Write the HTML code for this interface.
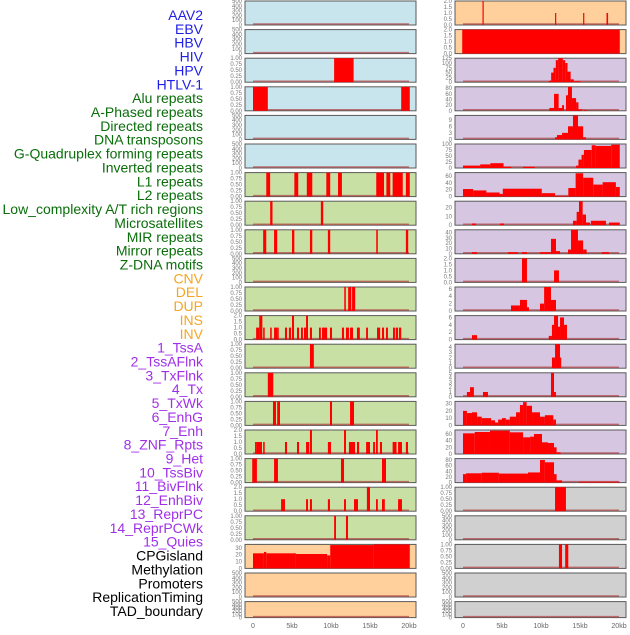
<!DOCTYPE html>
<html><head><meta charset="utf-8">
<style>
body{margin:0;background:#fff;}
svg text{font-family:"Liberation Sans",sans-serif;}
</style></head>
<body>
<svg id="chart" width="630" height="630" viewBox="0 0 630 630" xmlns="http://www.w3.org/2000/svg"></svg>
<script>
const labels=["AAV2","EBV","HBV","HIV","HPV","HTLV-1","Alu repeats","A-Phased repeats","Directed repeats","DNA transposons","G-Quadruplex forming repeats","Inverted repeats","L1 repeats","L2 repeats","Low_complexity A/T rich regions","Microsatellites","MIR repeats","Mirror repeats","Z-DNA motifs","CNV","DEL","DUP","INS","INV","1_TssA","2_TssAFlnk","3_TxFlnk","4_Tx","5_TxWk","6_EnhG","7_Enh","8_ZNF_Rpts","9_Het","10_TssBiv","11_BivFlnk","12_EnhBiv","13_ReprPC","14_ReprPCWk","15_Quies","CPGisland","Methylation","Promoters","ReplicationTiming","TAD_boundary"];
const labelColors=[...Array(6).fill("#1f1fe6"),...Array(13).fill("#0a6e0a"),...Array(5).fill("#f5a623"),...Array(15).fill("#a030e8"),...Array(5).fill("#000")];
const xTicks=[0,5,10,15,20];
const xTickLabels=["0","5kb","10kb","15kb","20kb"];
const E=[0,100,200,300,400,500], U=[0,0.25,0.5,0.75,1], T=[0,0.5,1,1.5,2];
// left column: [ymax, ticks, segments [startKb,endKb,value]]
const leftBg=[...Array(6).fill("#c8e4ec"),...Array(13).fill("#c8e0a4"),...Array(3).fill("#ffd09c")];
const leftTicks=[E,E,U,U,E,E,U,U,U,E,U,T,U,U,U,T,U,T,U,[0,10,20,30],E,E];
const leftMax=[500,500,1,1,500,500,1,1,1,500,1,2,1,1,1,2,1,2,1,35,500,500];
const leftSegs=[
[],[],
[[10.4,12.9,1]],
[[0,1.9,1],[19.0,20.1,1]],
[],[],
[[1.7,2.2,1],[5.3,5.8,1],[6.9,7.6,1],[9.4,9.9,1],[10.9,11.4,1],[15.8,16.8,1],[17.1,17.6,1],[17.9,19.2,1],[19.6,20.1,1]],
[[2.2,2.5,1],[8.7,9.0,1]],
[[1.3,1.7,1],[2.7,3.1,1],[5.0,5.3,1],[7.3,7.6,1],[9.6,9.9,1],[15.8,16.0,1],[19.6,19.9,1]],
[],
[[11.7,11.9,1],[12.2,12.6,1],[12.7,13.1,1]],
[[0.4,0.8,1],[0.8,1.2,2],[1.3,1.5,1],[2.2,2.4,1],[2.7,3.1,1],[3.1,3.3,1],[4.1,4.36,1],[4.6,4.87,1],[5.0,5.26,2],[5.64,5.9,1],[6.15,6.4,1],[6.54,6.8,1],[6.8,7.05,2],[7.3,7.56,1],[8.46,8.7,1],[8.85,9.1,1],[9.1,9.5,1],[9.87,10.13,1],[11.4,11.67,1],[11.92,12.3,1],[12.44,12.82,1],[13.33,13.7,1],[14.5,14.74,1],[15.9,16.3,1],[16.54,16.8,1],[17.05,17.3,1],[17.95,18.2,1],[18.3,18.6,1],[18.72,19.0,1]],
[[7.3,7.8,1]],
[[1.9,2.6,1]],
[[2.56,2.95,1],[3.1,3.46,1],[9.87,10.13,1],[12.44,12.95,1]],
[[0.26,0.5,1],[0.5,1.15,1],[1.3,1.5,1],[4.1,4.36,1],[5.64,5.9,1],[6.8,7.2,1],[7.3,7.56,2],[9.6,10.0,1],[11.67,11.92,2],[12.3,12.82,1],[12.82,13.08,1],[13.33,13.6,1],[14.5,15.0,1],[15.4,15.64,1],[15.77,16.0,2],[16.28,16.54,1],[17.9,18.4,1],[18.6,19.1,1],[19.6,19.87,1]],
[[-0.1,0.5,1],[2.7,3.2,1],[11.28,11.67,1],[16.54,17.05,1]],
[[3.6,4.1,1],[6.8,7.05,1],[7.3,7.56,1],[9.6,9.87,1],[11.67,11.92,1],[12.95,13.46,1],[14.6,15.0,2],[15.77,16.0,1],[16.54,16.9,1],[18.6,19.1,1]],
[[10.4,10.64,1],[11.92,12.18,1]],
[[0,1.4,22],[1.4,1.7,24],[1.7,5.5,22],[5.5,9.5,21],[9.5,9.9,19],[9.9,15.5,34],[15.5,20.1,35]],
[],[]
];
const rightBg=["#ffd09c","#ffd09c",...Array(15).fill("#d6c6e2"),...Array(5).fill("#d0d0d0")];
const rightTicks=[T,T,[0,25,50,75,100,125],[0,20,40,60,80],[0,3,6,9],[0,25,50,75,100],[0,20,40,60],[0,10,20],[0,10,20,30,40],T,[0,2,4,6],[0,2,4,6],[0,1,2,3,4],[0,1,2,3,4,5],[0,10,20,30],[0,20,40,60],[0,20,40,60,80],U,E,U,E,E];
const rightMax=[2,2,125,85,11,100,70,27,45,2,6.5,6.5,4.5,5,33,72,85,1,500,1,500,500];
const rightSegs=[
[[2.5,2.65,2],[11.8,11.95,1],[15.4,15.55,1],[18.4,18.6,1]],
[[-0.1,20.1,2]],
[[11.0,11.3,8],[11.3,11.6,50],[11.6,11.9,75],[11.9,12.2,115],[12.2,12.8,125],[12.8,13.1,115],[13.1,13.4,100],[13.4,13.8,55],[13.8,14.2,15],[14.2,15.1,5]],
[[11.07,11.67,10],[11.67,12.26,60],[12.26,12.7,10],[12.7,12.95,20],[13.2,13.46,55],[13.46,13.97,85],[13.97,14.5,45],[14.5,14.8,30],[14.8,15.3,5],[15.5,15.85,3]],
[[11.8,12.05,1],[12.05,12.7,2],[12.7,13.46,3],[13.46,14.1,6],[14.1,14.74,11],[14.74,15.4,6],[15.4,15.77,1]],
[[0,2.2,10],[2.2,3.5,15],[3.5,5.2,20],[5.2,6.2,5],[7.7,9.2,5],[14.5,14.8,10],[14.8,15.2,35],[15.2,15.5,55],[15.5,16.5,75],[16.5,17.0,95],[17.0,19.0,92],[19.0,20.1,97]],
[[0,1.3,22],[1.3,3.0,18],[3.0,4.7,12],[4.7,5.1,8],[5.1,10.1,23],[10.1,11.8,10],[11.8,13.5,2],[13.5,14.44,25],[14.44,15.4,68],[15.4,16.7,55],[16.7,17.9,35],[17.9,19.6,42],[19.6,20.1,28]],
[[1.15,1.67,2],[4.74,5.26,2],[14.1,14.57,5],[14.57,14.87,15],[14.87,15.34,27],[15.34,15.77,12],[15.77,16.28,3],[16.4,17.05,5],[17.05,18.33,5],[18.72,20.1,3]],
[[1.15,1.8,3],[5.77,7.05,3],[7.56,8.2,3],[9.87,11.28,3],[11.28,11.92,28],[11.92,12.44,5],[13.46,13.85,8],[13.85,14.74,45],[14.74,15.4,25],[15.4,15.85,8],[17.8,18.72,3]],
[[7.56,8.2,2],[11.67,12.3,1]],
[[6.15,7.3,1.5],[7.3,8.2,3],[8.2,8.46,1],[9.87,10.4,2],[10.4,11.28,6.5],[11.28,11.92,3]],
[[1.15,1.8,1.2],[11.0,11.4,1],[11.4,11.67,4],[11.67,12.18,6.5],[12.18,12.44,3.5],[12.44,12.95,6],[12.95,13.33,4]],
[[11.4,11.8,2],[11.8,12.44,4.5],[12.44,12.56,2]],
[[0.5,0.9,1],[0.9,1.4,2],[2.56,3.2,1],[11.28,11.67,5],[11.67,11.92,1]],
[[0,0.5,20],[0.5,1.15,17],[1.15,1.8,18],[1.8,2.4,12],[2.4,3.6,10],[3.6,4.1,7],[4.1,4.5,4],[4.5,5.0,8],[5.0,5.5,10],[5.5,6.0,8],[6.0,6.8,12],[6.8,7.3,18],[7.3,7.7,28],[7.7,8.16,32],[8.16,8.85,27],[8.85,9.87,18],[9.87,10.5,12],[10.5,11.58,14],[11.58,11.92,8]],
[[0,1.5,62],[1.5,3.46,66],[3.46,6.0,70],[6.0,7.7,65],[7.7,8.6,50],[8.6,9.1,52],[9.1,10.13,60],[10.13,10.9,35],[10.9,11.67,33],[11.67,12.0,20],[12.0,12.5,5]],
[[0,0.4,30],[0.4,2.4,33],[2.4,4.6,35],[4.6,8.33,32],[8.33,9.87,36],[9.87,10.5,80],[10.5,11.67,72],[11.67,12.0,30],[12.0,12.7,8],[14.87,20.1,3]],
[[11.8,13.2,1]],
[],
[[12.3,12.7,1],[13.1,13.5,1]],
[],[]
];

const NS="http://www.w3.org/2000/svg";
const svg=document.getElementById("chart");
function mk(tag,attrs,parent){const e=document.createElementNS(NS,tag);for(const k in attrs)e.setAttribute(k,attrs[k]);(parent||svg).appendChild(e);return e;}

// labels
labels.forEach((t,i)=>{
  const el=mk("text",{x:203,y:15+i*13.86+5,"text-anchor":"end","font-size":"14",fill:labelColors[i]});
  el.textContent=t;
  
  
});

function drawColumn(colName,frameX,x0,bgs,ticksArr,maxArr,segsArr){
  const xs=kb=>x0+kb*7.8;
  for(let i=0;i<22;i++){
    const top=1+i*28.6, h=(i===21?16:24), bottom=top+h;
    const g=mk("g",{});
    
    
    mk("rect",{x:frameX,y:top,width:171,height:h,fill:bgs[i],stroke:"#5a5a5a","stroke-width":1},g);
    const ymax=maxArr[i];
    const ys=v=>bottom-(v/ymax)*h;
    mk("line",{x1:xs(0),x2:xs(20),y1:bottom-1,y2:bottom-1,stroke:"#b04040","stroke-width":1.5,opacity:0.7},g);
    segsArr[i].forEach(s=>{
      const x1=Math.max(xs(s[0]),frameX+0.5), x2=Math.min(xs(s[1]),frameX+170.5);
      const r=mk("rect",{x:x1,y:ys(s[2]),width:Math.max(1.2,x2-x1),height:bottom-ys(s[2]),fill:"#ff0000"},g);
      
      
    });
    ticksArr[i].forEach(t=>{
      const y=ys(t);
      const tx=mk("text",{x:frameX-3,y:y+2,"text-anchor":"end","font-size":"6",fill:"#777"},g);
      tx.textContent=(ticksArr[i]===U)?t.toFixed(2):(ticksArr[i]===T?t.toFixed(1):String(t));
    });
  }
  xTicks.forEach((k,j)=>{
    const tx=mk("text",{x:xs(k),y:628,"text-anchor":"middle","font-size":"7",fill:"#666"});
    tx.textContent=xTickLabels[j];
    
    
  });
}
drawColumn("left",245,253,leftBg,leftTicks,leftMax,leftSegs);
drawColumn("right",455,463,rightBg,rightTicks,rightMax,rightSegs);
</script>
</body></html>
